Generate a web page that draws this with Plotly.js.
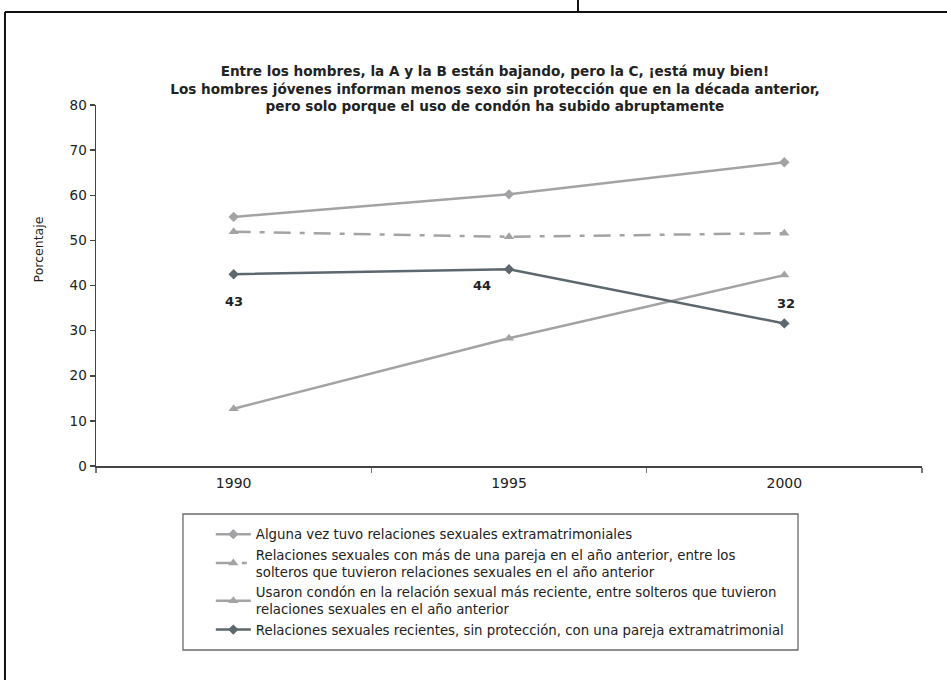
<!DOCTYPE html>
<html>
<head>
<meta charset="utf-8">
<script src="https://cdn.plot.ly/plotly-3.0.1.min.js"></script>
<style>
html,body{margin:0;padding:0;background:#fff;}
#chart{width:947px;height:680px;}
</style>
</head>
<body>
<div id="chart"></div>
<script>
const years = ['1990', '1995', '2000'];
const seriesNames = [
  'Alguna vez tuvo relaciones sexuales extramatrimoniales',
  'Relaciones sexuales con más de una pareja en el año anterior, entre los<br>solteros que tuvieron relaciones sexuales en el año anterior',
  'Usaron condón en la relación sexual más reciente, entre solteros que tuvieron<br>relaciones sexuales en el año anterior',
  'Relaciones sexuales recientes, sin protección, con una pareja extramatrimonial'
];
const extramarital = [55.2, 60.2, 67.3];
const multiplePartners = [51.9, 50.8, 51.6];
const condomUse = [12.7, 28.3, 42.3];
const unprotected = [42.5, 43.6, 31.6];
const unprotectedLabels = ['43', '44', '32'];
const yTicks = [0, 10, 20, 30, 40, 50, 60, 70, 80];

const light = '#a3a3a6';
const dark = '#5d676e';
const font = 'DejaVu Sans, Verdana, sans-serif';

const traces = [
  {x: years, y: extramarital, name: seriesNames[0], type: 'scatter', mode: 'lines+markers',
   line: {color: light, width: 2.5}, marker: {symbol: 'diamond', size: 8, color: light}},
  {x: years, y: multiplePartners, name: seriesNames[1], type: 'scatter', mode: 'lines+markers',
   line: {color: light, width: 2.5, dash: '17px,9px,5px,9px'}, marker: {symbol: 'triangle-up', size: 9, color: light}},
  {x: years, y: condomUse, name: seriesNames[2], type: 'scatter', mode: 'lines+markers',
   line: {color: light, width: 2.5}, marker: {symbol: 'triangle-up', size: 9, color: light}},
  {x: years, y: unprotected, name: seriesNames[3], type: 'scatter', mode: 'lines+markers',
   line: {color: dark, width: 2.5}, marker: {symbol: 'diamond', size: 8, color: dark}}
];

// label offsets in pixels relative to the data point
const labelShift = [[0, -27], [-27, -16], [2, 20]];
const annotations = unprotectedLabels.map((t, i) => ({
  x: years.indexOf(years[i]), y: unprotected[i], xref: 'x', yref: 'y', text: t, showarrow: false,
  xshift: labelShift[i][0], yshift: labelShift[i][1],
  font: {family: font, size: 13, color: '#222', weight: 'bold'}
}));
annotations.push({
  x: -0.0702, y: 0.60, xref: 'paper', yref: 'paper', text: 'Porcentaje', textangle: -90,
  showarrow: false, xanchor: 'center', yanchor: 'middle',
  font: {family: font, size: 12.5, color: '#222'}
});

const frameLine = {color: '#111', width: 2};
const shapes = [
  {type: 'line', xref: 'paper', yref: 'paper', x0: -0.1102, x1: 1.04, y0: 1.2576, y1: 1.2576, line: frameLine},
  {type: 'line', xref: 'paper', yref: 'paper', x0: -0.1102, x1: -0.1102, y0: 1.2576, y1: -0.6, line: frameLine},
  {type: 'line', xref: 'paper', yref: 'paper', x0: 0.5835, x1: 0.5835, y0: 1.2576, y1: 1.3, line: frameLine},
  // legend box
  {type: 'rect', xref: 'paper', yref: 'paper', x0: 0.1053, x1: 0.8499, y0: -0.1330, y1: -0.5097,
   line: {color: '#6a6a6a', width: 1.3}, fillcolor: 'rgba(0,0,0,0)'}
];

const layout = {
  width: 947, height: 680,
  margin: {l: 96, r: 25, t: 105, b: 214},
  paper_bgcolor: '#fff', plot_bgcolor: '#fff',
  font: {family: font, size: 13, color: '#222'},
  title: {
    text: 'Entre los hombres, la A y la B están bajando, pero la C, ¡está muy bien!<br>Los hombres jóvenes informan menos sexo sin protección que en la década anterior,<br>pero solo porque el uso de condón ha subido abruptamente',
    font: {family: font, size: 13.6, color: '#222', weight: 'bold'},
    xref: 'paper', x: 0.483, xanchor: 'center',
    yref: 'container', y: 0.8882, yanchor: 'middle'
  },
  xaxis: {
    type: 'category', range: [-0.5, 2.5], tickson: 'boundaries',
    showline: true, linecolor: '#444', linewidth: 1.5,
    ticks: 'outside', ticklen: 5, tickcolor: '#777', tickwidth: 1.5,
    ticklabelstandoff: 4,
    showgrid: false, zeroline: false,
    tickfont: {family: font, size: 14, color: '#222'}
  },
  yaxis: {
    range: [0, 80], tickvals: yTicks, ticktext: yTicks.map(String),
    showline: true, linecolor: '#444', linewidth: 1.5,
    ticks: 'outside', ticklen: 5, tickcolor: '#444', tickwidth: 1.5,
    showgrid: false, zeroline: false,
    tickfont: {family: font, size: 13.5, color: '#222'}
  },
  showlegend: true,
  legend: {
    x: 0.139, y: -0.1468, xanchor: 'left', yanchor: 'top',
    bgcolor: 'rgba(0,0,0,0)', borderwidth: 0,
    font: {family: font, size: 13.3, color: '#222'},
    itemwidth: 35, tracegroupgap: 0
  },
  annotations: annotations,
  shapes: shapes
};

Plotly.newPlot('chart', traces, layout, {displayModeBar: false, staticPlot: true});
</script>
</body>
</html>
